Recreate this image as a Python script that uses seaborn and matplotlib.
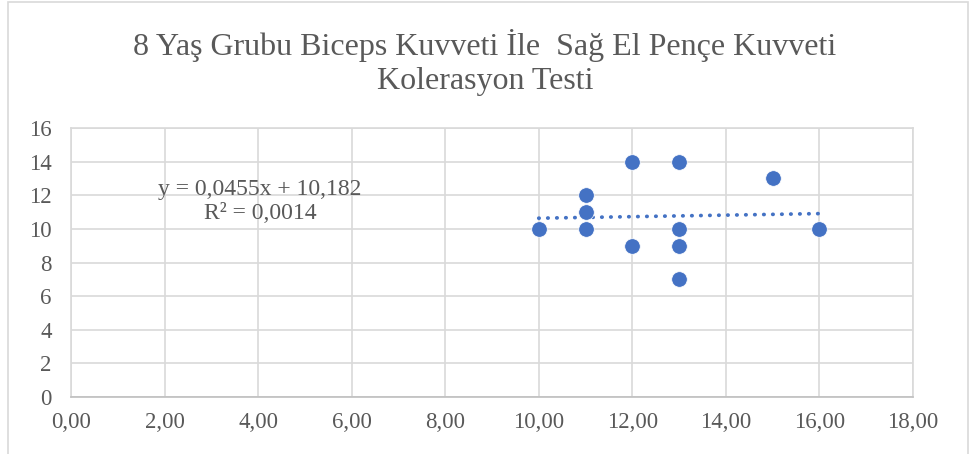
import numpy as np
import pandas as pd
import matplotlib
matplotlib.use("Agg")
import matplotlib.pyplot as plt
import seaborn as sns
from matplotlib.patches import Rectangle
import matplotlib.ticker as mticker

# biceps (x) vs right hand grip (y), 8 age group
biceps = [10, 11, 11, 11, 12, 12, 13, 13, 13, 13, 15, 16]
grip = [10, 12, 11, 10, 14, 9, 14, 10, 9, 7, 13, 10]
x_ticks = [0, 2, 4, 6, 8, 10, 12, 14, 16, 18]
y_ticks = [0, 2, 4, 6, 8, 10, 12, 14, 16]
title = "8 Yaş Grubu Biceps Kuvveti İle  Sağ El Pençe Kuvveti\nKolerasyon Testi"
eq_text = "y = 0,0455x + 10,182\nR² = 0,0014"

df = pd.DataFrame({"biceps": biceps, "grip": grip})

sns.set_style("white")
plt.rcParams["font.family"] = ["Liberation Serif", "DejaVu Serif"]

blue = "#4472C4"
grid_c = "#D9D9D9"

fig = plt.figure(figsize=(9.7, 4.54), dpi=100)
ax = fig.add_axes([0.0732, 0.1256, 0.8680, 0.5924])

# chart border (cut at bottom like the screenshot)
fig.patches.append(Rectangle((8 / 970, -0.05), 960 / 970, 1.05 - 2 / 454,
                             transform=fig.transFigure, fill=False,
                             edgecolor=grid_c, linewidth=1.2))

# linear trendline, dotted like excel
sns.regplot(data=df, x="biceps", y="grip", scatter=False, ci=None, ax=ax,
            line_kws={"color": blue, "linestyle": (0, (0.1, 2.3)), "linewidth": 2.7,
                      "dash_capstyle": "round"})
sns.scatterplot(data=df, x="biceps", y="grip", ax=ax, s=125, color=blue,
                edgecolor="white", linewidth=0.5, zorder=3)

ax.set_xlim(0, 18)
ax.set_ylim(0, 16)
ax.set_xticks(x_ticks)
ax.set_yticks(y_ticks)
ax.xaxis.set_major_formatter(mticker.FuncFormatter(lambda v, p: f"{v:.2f}".replace(".", ",")))
ax.grid(True, color=grid_c, linewidth=1.2)
ax.set_axisbelow(True)
for side in ["top", "right", "left"]:
    ax.spines[side].set_color(grid_c)
    ax.spines[side].set_linewidth(1.2)
ax.spines["bottom"].set_color("#BFBFBF")
ax.spines["bottom"].set_linewidth(1.2)
ax.tick_params(axis="both", length=0, labelsize=16.5, labelcolor="#595959")
ax.tick_params(axis="y", pad=14)
ax.tick_params(axis="x", pad=11)
ax.set_xlabel("")
ax.set_ylabel("")

ax.text(4.04, 11.62, eq_text, ha="center", va="center", fontsize=17,
        color="#595959", linespacing=1.22)

fig.text(0.5, 0.862, title, ha="center", va="center", fontsize=23,
         color="#595959", linespacing=1.22)

fig.savefig("out.png", dpi=100)
